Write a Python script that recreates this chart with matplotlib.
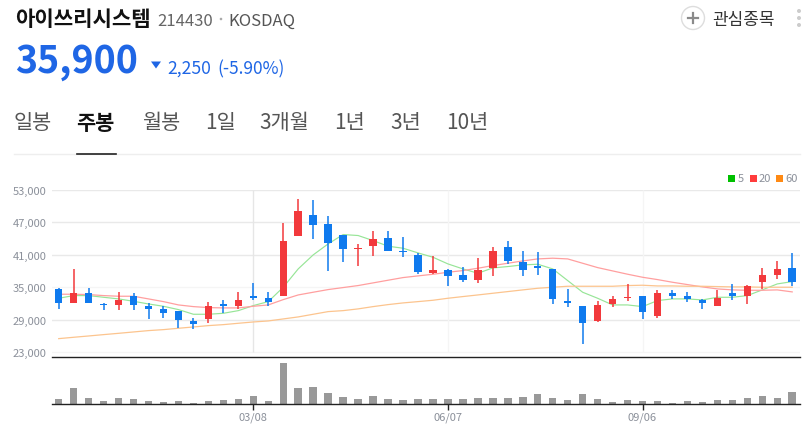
#!/usr/bin/env python3

import matplotlib
matplotlib.use('Agg')
import matplotlib.pyplot as plt
from matplotlib.patches import Circle, Polygon, Rectangle

plt.rcParams['font.family'] = ['Noto Sans CJK KR', 'DejaVu Sans']

W, H = 812, 427

opens = [34700, 32000, 34000, 31900, 31800, 33330, 31480, 31000, 30560, 28720,
         29090, 31850, 31550, 33400, 32960, 33450, 44500, 48330, 46670, 44700,
         42000, 42670, 44150, 41690, 40950, 37690, 38120, 37260, 36400, 38620,
         42430, 39660, 38900, 38300, 32400, 31550, 28780, 31980, 33080, 33330,
         29700, 33940, 33330, 32700, 31550, 33880, 33390, 36030, 37320, 38550]
closes = [32000, 33950, 32000, 31730, 32710, 31800, 30930, 30300, 28960, 28230,
          31480, 31600, 32700, 33080, 32220, 43470, 49000, 46550, 43220, 42000,
          42300, 43900, 41750, 41440, 37750, 38120, 37080, 36400, 38250, 41690,
          39840, 38250, 38600, 32840, 32160, 28470, 31790, 32770, 33200, 30500,
          33940, 33390, 32840, 32160, 33020, 33390, 35230, 37260, 38300, 35900]
highs = [34900, 38400, 34850, 32160, 34130, 34000, 32100, 31480, 30560, 29330,
         32220, 32650, 34050, 35850, 34130, 46850, 51280, 51100, 48140, 44700,
         42980, 45380, 45380, 44200, 41320, 40700, 38370, 38680, 40460, 42430,
         43530, 41690, 41500, 38300, 34620, 31550, 32400, 33400, 35600, 33330,
         34430, 34430, 34130, 32770, 34560, 35600, 35360, 38550, 39840, 41380]
lows = [31000, 32000, 32000, 30870, 30800, 30870, 29150, 29330, 27550, 27300,
        28470, 30300, 31000, 32650, 31550, 33450, 44500, 43960, 38060, 39720,
        38920, 40700, 41750, 40580, 37380, 37380, 35170, 36030, 35790, 37020,
        39350, 37140, 37320, 31980, 31420, 24600, 28660, 31420, 32470, 29090,
        29400, 32840, 32220, 30930, 31550, 32710, 31850, 34740, 36460, 35230]
ma5 = [32960, 33450, 33450, 33140, 32840, 32400, 31910, 31480, 30870, 30010,
       30010, 30190, 30680, 31610, 32340, 34990, 38370, 40950, 42980, 44700,
       44520, 43590, 42550, 42180, 41320, 40520, 39290, 38370, 37570, 38550,
       38800, 39110, 39230, 38370, 36220, 34070, 32960, 31730, 31730, 31420,
       32530, 32840, 32840, 32650, 33140, 33140, 33450, 34500, 35600, 36030]
ma20 = [33700, 33700, 33640, 33450, 33330, 33330, 32840, 32340, 31730, 31420,
        31240, 31180, 31180, 31480, 31730, 32710, 33570, 34070, 34560, 34930,
        35300, 35790, 36280, 36770, 37080, 37380, 37750, 38060, 38490, 38980,
        39410, 39840, 40210, 40340, 40210, 39410, 38610, 38000, 37390, 36830,
        36400, 35910, 35480, 35050, 34680, 34500, 34430, 34430, 34500, 34130]
ma60 = [25520, 25770, 26010, 26260, 26500, 26750, 27000, 27180, 27430, 27670,
        27920, 28100, 28350, 28590, 28780, 29150, 29520, 30010, 30500, 30680,
        31000, 31420, 31790, 32100, 32340, 32590, 32960, 33270, 33570, 33880,
        34190, 34500, 34800, 34990, 35170, 35170, 35170, 35170, 35300, 35360,
        35230, 35230, 35170, 35170, 35110, 35050, 35050, 34990, 34990, 34990]
volume = [15, 50, 19, 9, 19, 16, 9, 7, 9, 5, 10, 13, 15, 25, 10, 124, 50, 52, 34, 22,
          16, 25, 16, 13, 16, 16, 15, 15, 19, 20, 20, 22, 30, 20, 13, 30, 15, 7, 13, 9,
          10, 5, 9, 7, 13, 13, 19, 25, 19, 37]
y_ticks = [23000, 29000, 35000, 41000, 47000, 53000]
x_ticks = [13, 26, 39]
x_labels = ['03/08', '06/07', '09/06']
tabs = ['일봉', '주봉', '월봉', '1일', '3개월', '1년', '3년', '10년']
tab_x = [14, 76, 142, 205, 259, 334, 390, 446]

BLUE = '#0f7aee'
RED = '#f2393c'
GREY = '#8b909a'


def px_axes(left, top, right, bottom):
    return fig.add_axes([left / W, 1 - bottom / H, (right - left) / W, (bottom - top) / H])


def label(x, y, s, **kwargs):
    fig.text(x / W, 1 - y / H, s, va='center', **kwargs)


fig = plt.figure(figsize=(W / 100, H / 100), dpi=100)

# price panel
ax = px_axes(52, 190.5, 800, 358.3)
ax.set_xlim(-0.448, 49.52)
ax.set_ylim(22080, 53000)
for t in y_ticks:
    ax.axhline(t, color='#f5f5f5' if t in (23000, 35000) else '#e9e9e9', lw=1, zorder=1)
ax.vlines(x_ticks[0], 23000, 53000, color='#e6e6e6', lw=1, zorder=1)
ax.vlines(x_ticks[1:], 23000, 53000, color='#f5f5f5', lw=1, zorder=1)

xs = range(len(ma5))
ax.plot(xs, ma5, color='#97e597', lw=0.85, zorder=2)
ax.plot(xs, ma20, color='#ff9f9f', lw=0.9, zorder=2)
ax.plot(xs, ma60, color='#fcc48e', lw=0.9, zorder=2)

for i in range(len(opens)):
    c = RED if closes[i] >= opens[i] else BLUE
    ax.vlines(i, lows[i], highs[i], color=c, lw=1.1, zorder=3)
    body = abs(closes[i] - opens[i])
    ax.bar(i, max(body, 200), bottom=min(opens[i], closes[i]), width=0.5, color=c, zorder=3)

ax.set_yticks(y_ticks)
ax.set_yticklabels([format(t, ',') for t in y_ticks], fontsize=8, color=GREY)
ax.tick_params(axis='y', length=0, pad=4)
ax.set_xticks([])
for side in ['top', 'left', 'right']:
    ax.spines[side].set_visible(False)
ax.spines['bottom'].set_color('#222222')
ax.spines['bottom'].set_linewidth(1)
ax.patch.set_alpha(0)

# volume panel
ax2 = px_axes(52, 358.3, 800, 405.3)
ax2.set_xlim(-0.448, 49.52)
ax2.set_ylim(0, 141)
ax2.bar(range(len(volume)), volume, width=0.5, color='#999999')
ax2.set_yticks([])
ax2.set_xticks(x_ticks)
ax2.set_xticklabels(x_labels, fontsize=8, color=GREY)
ax2.tick_params(axis='x', length=4, width=1, color='#222222', pad=1)
for side in ['top', 'left', 'right']:
    ax2.spines[side].set_visible(False)
ax2.spines['bottom'].set_color('#222222')
ax2.spines['bottom'].set_linewidth(1)
ax2.patch.set_alpha(0)

# overlay in pixel coordinates for the page header
ov = fig.add_axes([0, 0, 1, 1], zorder=-1)
ov.set_xlim(0, W)
ov.set_ylim(H, 0)
ov.axis('off')
ov.add_patch(Circle((693, 19), 11.5, fc='white', ec='#dddddd', lw=1))
ov.plot([688, 698], [19, 19], color='#8a8a8a', lw=1.6)
ov.plot([693, 693], [14, 24], color='#8a8a8a', lw=1.6)
for y in [12, 19, 26]:
    ov.add_patch(Circle((799, y), 2, fc='#cccccc', ec='none'))
ov.add_patch(Circle((221, 20), 1.3, fc='#aaaaaa', ec='none'))
ov.add_patch(Polygon([[151, 62.5], [161, 62.5], [156, 69.5]], fc='#1f66e5', ec='none'))
ov.plot([14, 800], [155, 155], color='#eeeeee', lw=1)
ov.plot([77, 116], [155, 155], color='#222222', lw=1.2)
for x, c in [(728, '#00c000'), (750, '#ff3c3c'), (776, '#ff8a14')]:
    ov.add_patch(Rectangle((x, 176), 7, 7, fc=c, ec='none'))

label(15, 19, '아이쓰리시스템', fontsize=15.2, fontweight='bold', color='#111111')
label(157, 21, '214430', fontsize=12, color='#666666')
label(228, 21, 'KOSDAQ', fontsize=12, color='#555555')
label(712, 20, '관심종목', fontsize=12.2, color='#333333')
label(15, 62, '35,900', fontsize=27, fontweight='bold', color='#1f66e5')
label(167, 69, '2,250', fontsize=12.6, color='#1f66e5')
label(217, 69, '(-5.90%)', fontsize=12.5, color='#1f66e5')
for s, x in zip(tabs, tab_x):
    if s == '주봉':
        label(x, 123, s, fontsize=15, fontweight='bold', color='#111111')
    else:
        label(x, 123, s, fontsize=15, color='#555555')
label(738, 179, '5', fontsize=8, color=GREY)
label(759, 179, '20', fontsize=8, color=GREY)
label(785, 179, '60', fontsize=8, color=GREY)

fig.savefig('out.png', dpi=100)
